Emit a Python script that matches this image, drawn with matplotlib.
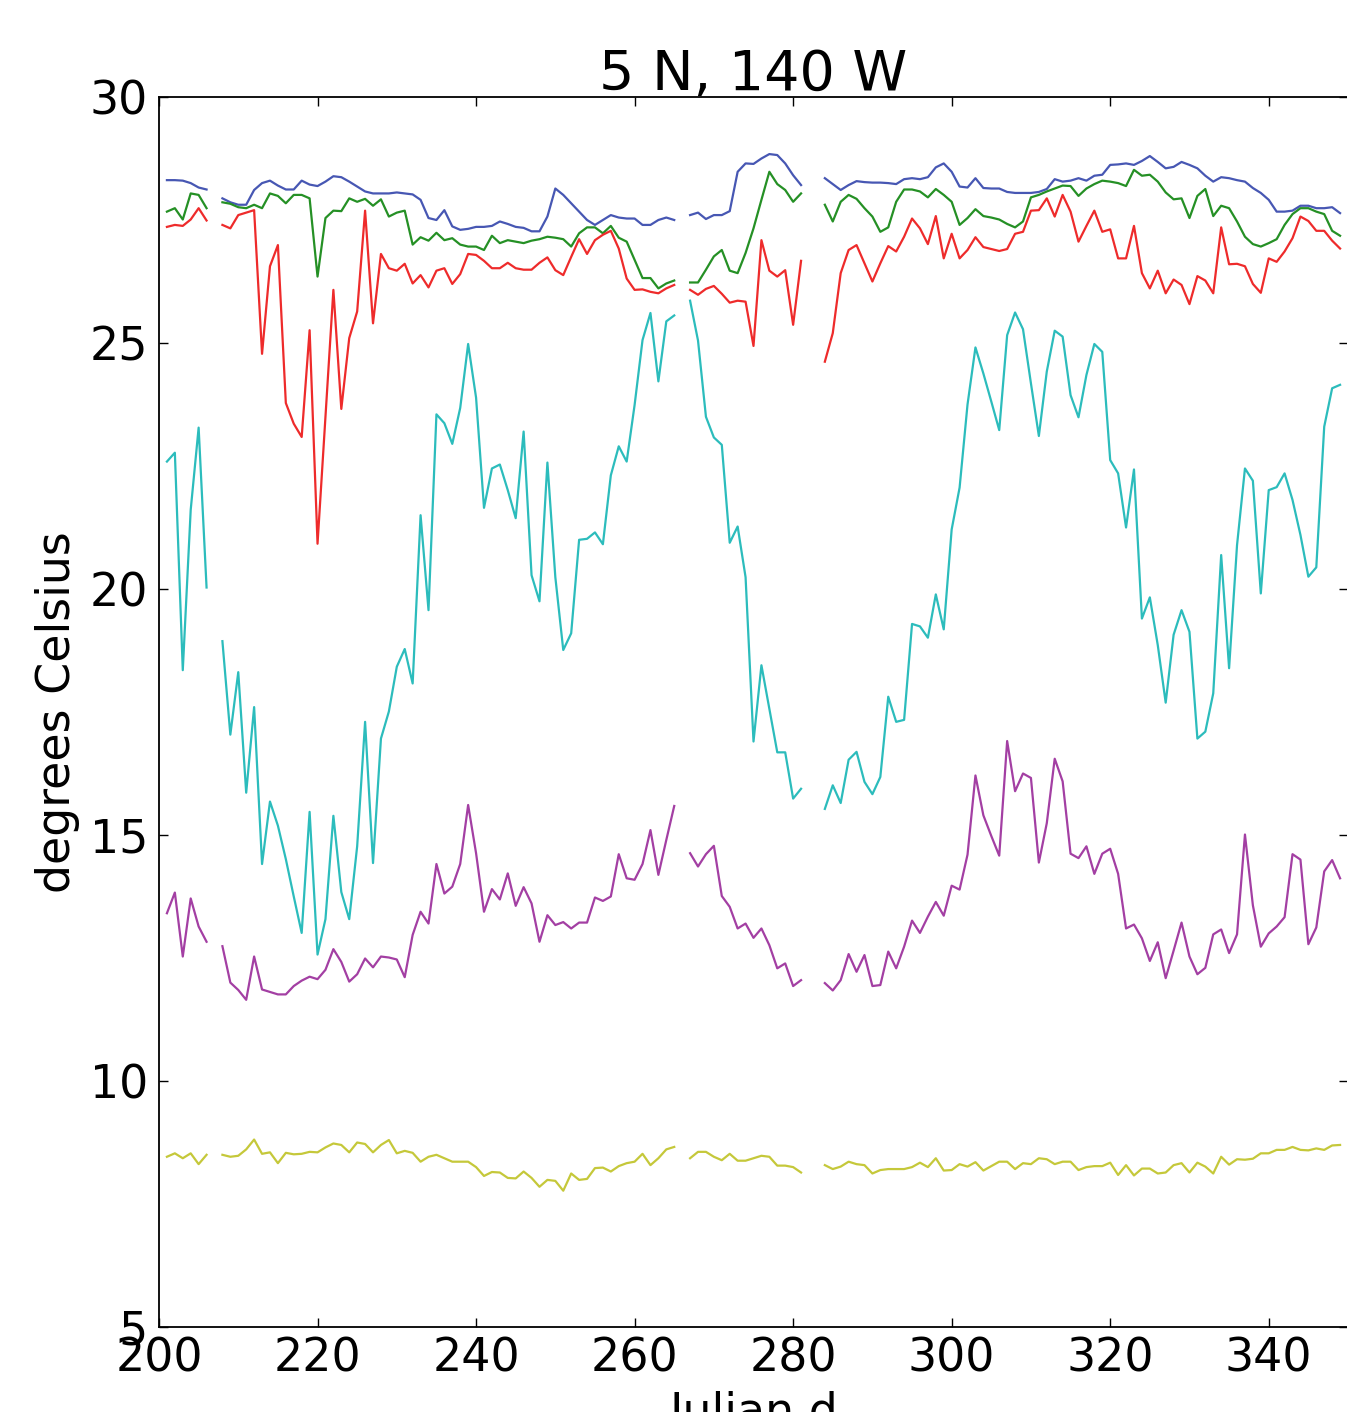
import numpy as np
import matplotlib
matplotlib.use("Agg")
import matplotlib.pyplot as plt

nan = np.nan
days = list(range(201, 350))

blue = [28.31, 28.31, 28.30, 28.25, 28.16, 28.12, nan,
        27.94, 27.86, 27.81, 27.81, 28.11, 28.25, 28.30, 28.20, 28.12, 28.12,
        28.30, 28.22, 28.19, 28.28, 28.39, 28.37, 28.28, 28.18, 28.08, 28.04,
        28.04, 28.04, 28.06, 28.04, 28.02, 27.91, 27.54, 27.50, 27.70, 27.37,
        27.30, 27.32, 27.36, 27.36, 27.38, 27.47, 27.42, 27.36, 27.34, 27.27,
        27.27, 27.57, 28.14,
        28.01, 27.84, 27.67, 27.50, 27.40, 27.50, 27.60, 27.55, 27.53, 27.53, 27.40, 27.40, 27.50, 27.55, 27.50,
        nan,
        27.60, 27.65, 27.52, 27.60, 27.60, 27.68, 28.48, 28.65, 28.64, 28.75, 28.84, 28.82, 28.65, 28.41, 28.21,
        nan, nan,
        28.35, 28.23, 28.11, 28.21, 28.29, 28.27, 28.26, 28.26, 28.25, 28.23, 28.33, 28.35, 28.33, 28.37, 28.57,
        28.65, 28.48, 28.18, 28.16, 28.35, 28.15, 28.14, 28.14, 28.07, 28.05,
        28.05, 28.05, 28.07, 28.13, 28.33, 28.28, 28.30, 28.35, 28.30, 28.40,
        28.42, 28.62, 28.63, 28.65, 28.62, 28.70, 28.80, 28.68, 28.55, 28.58,
        28.68, 28.62, 28.55, 28.40, 28.28, 28.37, 28.35, 28.31, 28.28, 28.15,
        28.05, 27.91, 27.67, 27.67, 27.69, 27.79, 27.79, 27.74, 27.74, 27.76, 27.64]

green = [27.67, 27.74, 27.51, 28.04, 28.01, 27.74, nan,
         27.86, 27.83, 27.76, 27.74, 27.81, 27.74, 28.04, 27.99, 27.84, 28.01,
         28.01, 27.94, 26.35, 27.54, 27.69, 27.68, 27.94, 27.87, 27.93, 27.79,
         27.92, 27.57, 27.65, 27.69, 27.00, 27.15, 27.08, 27.24, 27.09, 27.13,
         27.00, 26.96, 26.96, 26.89, 27.18, 27.03, 27.09, 27.06, 27.03, 27.08,
         27.11, 27.16, 27.14,
         27.11, 26.96, 27.23, 27.35, 27.35, 27.23, 27.38, 27.14, 27.06, 26.69, 26.32, 26.32, 26.11, 26.21, 26.27,
         nan,
         26.23, 26.23, 26.49, 26.76, 26.89, 26.47, 26.42, 26.83, 27.33, 27.91, 28.48, 28.23, 28.11, 27.87, 28.04,
         nan, nan,
         27.81, 27.47, 27.87, 28.01, 27.93, 27.74, 27.57, 27.26, 27.35, 27.87, 28.12, 28.12, 28.08, 27.96, 28.13,
         28.01, 27.87, 27.40, 27.54, 27.72, 27.58, 27.55, 27.51, 27.42, 27.35,
         27.47, 27.96, 28.01, 28.08, 28.14, 28.20, 28.19, 27.99, 28.14, 28.23,
         28.30, 28.28, 28.25, 28.19, 28.52, 28.40, 28.42, 28.28, 28.06, 27.92,
         27.94, 27.54, 27.99, 28.13, 27.58, 27.79, 27.74, 27.47, 27.16, 27.01,
         26.96, 27.03, 27.11, 27.40, 27.62, 27.74, 27.74, 27.67, 27.62, 27.28, 27.18]

red = [27.36, 27.40, 27.38, 27.51, 27.74, 27.49, nan,
       27.40, 27.33, 27.60, 27.65, 27.70, 24.78, 26.56, 26.99, 23.78, 23.36,
       23.09, 25.26, 20.92, 23.50, 26.08, 23.66, 25.10, 25.64, 27.69, 25.40,
       26.81, 26.52, 26.47, 26.61, 26.21, 26.38, 26.13, 26.47, 26.52, 26.20,
       26.40, 26.81, 26.79, 26.67, 26.52, 26.52, 26.63, 26.52, 26.49, 26.49,
       26.63, 26.74, 26.48,
       26.38, 26.75, 27.11, 26.81, 27.09, 27.20, 27.28, 26.92, 26.31, 26.08, 26.09, 26.04, 26.01, 26.11, 26.18,
       nan,
       26.08, 25.98, 26.10, 26.16, 26.00, 25.82, 25.86, 25.84, 24.94, 27.09, 26.47, 26.35, 26.48, 25.37, 26.67,
       nan, nan,
       24.62, 25.20, 26.42, 26.89, 26.99, 26.62, 26.25, 26.62, 26.97, 26.86, 27.16, 27.53, 27.33, 27.01, 27.58,
       26.72, 27.22, 26.72, 26.89, 27.15, 26.95, 26.91, 26.87, 26.91, 27.22,
       27.26, 27.69, 27.70, 27.94, 27.57, 28.01, 27.67, 27.06, 27.38, 27.69,
       27.26, 27.31, 26.72, 26.72, 27.38, 26.42, 26.11, 26.47, 26.01, 26.29,
       26.18, 25.79, 26.36, 26.27, 26.01, 27.35, 26.60, 26.61, 26.56, 26.20,
       26.02, 26.72, 26.65, 26.86, 27.13, 27.57, 27.48, 27.28, 27.28, 27.08, 26.92]

cyan = [22.59, 22.77, 18.35, 21.61, 23.28, 20.03, nan,
        18.94, 17.04, 18.31, 15.86, 17.60, 14.41, 15.68, 15.19, 14.51, 13.75,
        13.01, 15.47, 12.57, 13.29, 15.39, 13.84, 13.29, 14.77, 17.30, 14.43,
        16.96, 17.51, 18.42, 18.78, 18.08, 21.50, 19.57, 23.55, 23.37, 22.95,
        23.68, 24.98, 23.89, 21.65, 22.45, 22.53, 22.01, 21.44, 23.20, 20.28,
        19.75, 22.57, 20.24,
        18.76, 19.10, 21.00, 21.02, 21.15, 20.91, 22.31, 22.90, 22.59, 23.74, 25.06, 25.61, 24.22, 25.44, 25.56,
        nan,
        25.86, 25.05, 23.50, 23.08, 22.93, 20.94, 21.27, 20.24, 16.90, 18.45, 17.56, 16.68, 16.68, 15.74, 15.94,
        nan, nan,
        15.53, 16.01, 15.65, 16.53, 16.69, 16.08, 15.83, 16.18, 17.81, 17.30, 17.34, 19.29, 19.24, 19.01, 19.89,
        19.18, 21.21, 22.06, 23.75, 24.91, 24.38, 23.81, 23.23, 25.16, 25.62,
        25.28, 24.18, 23.11, 24.42, 25.25, 25.13, 23.94, 23.49, 24.35, 24.98,
        24.82, 22.62, 22.35, 21.25, 22.43, 19.40, 19.83, 18.86, 17.69, 19.07,
        19.57, 19.13, 16.96, 17.10, 17.88, 20.69, 18.39, 20.89, 22.45, 22.20,
        19.91, 22.01, 22.07, 22.35, 21.81, 21.10, 20.25, 20.44, 23.30, 24.08, 24.15]

magenta = [13.41, 13.83, 12.53, 13.71, 13.14, 12.83, nan,
           12.74, 12.00, 11.85, 11.65, 12.53, 11.86, 11.81, 11.76, 11.76, 11.93,
           12.04, 12.12, 12.07, 12.26, 12.68, 12.42, 12.02, 12.17, 12.49, 12.31,
           12.53, 12.51, 12.47, 12.11, 12.97, 13.44, 13.20, 14.41, 13.81, 13.95,
           14.41, 15.61, 14.63, 13.44, 13.90, 13.69, 14.22, 13.56, 13.94, 13.61,
           12.83, 13.37, 13.17,
           13.23, 13.10, 13.22, 13.22, 13.73, 13.66, 13.75, 14.61, 14.12, 14.09, 14.41, 15.10, 14.19, 14.90, 15.59,
           nan,
           14.63, 14.36, 14.61, 14.78, 13.76, 13.54, 13.10, 13.20, 12.91, 13.10, 12.76, 12.29, 12.39, 11.93, 12.05,
           nan, nan,
           11.99, 11.84, 12.05, 12.58, 12.22, 12.56, 11.93, 11.95, 12.63, 12.29, 12.73, 13.26, 13.01, 13.34, 13.64,
           13.36, 13.97, 13.89, 14.60, 16.21, 15.40, 14.98, 14.58, 16.91, 15.89,
           16.25, 16.16, 14.44, 15.24, 16.55, 16.09, 14.62, 14.53, 14.77, 14.21,
           14.62, 14.72, 14.21, 13.10, 13.18, 12.90, 12.44, 12.82, 12.09, 12.65,
           13.22, 12.53, 12.17, 12.30, 12.98, 13.08, 12.60, 12.98, 15.01, 13.57,
           12.73, 13.00, 13.14, 13.33, 14.61, 14.50, 12.78, 13.12, 14.26, 14.49, 14.12]

yellow = [8.46, 8.53, 8.43, 8.53, 8.31, 8.50, nan,
          8.50, 8.46, 8.48, 8.61, 8.81, 8.52, 8.55, 8.33, 8.54, 8.51,
          8.52, 8.56, 8.55, 8.65, 8.73, 8.70, 8.55, 8.75, 8.72, 8.55,
          8.70, 8.80, 8.53, 8.58, 8.54, 8.36, 8.46, 8.50, 8.43, 8.36,
          8.36, 8.36, 8.25, 8.07, 8.15, 8.14, 8.03, 8.02, 8.16, 8.03,
          7.85, 7.99, 7.97,
          7.77, 8.12, 7.99, 8.01, 8.23, 8.24, 8.16, 8.27, 8.33, 8.36, 8.52, 8.29, 8.43, 8.61, 8.66,
          nan,
          8.43, 8.56, 8.56, 8.46, 8.39, 8.52, 8.38, 8.38, 8.43, 8.48, 8.46, 8.28, 8.28, 8.25, 8.14,
          nan, nan,
          8.29, 8.21, 8.26, 8.36, 8.31, 8.29, 8.12, 8.19, 8.21, 8.21, 8.21, 8.25, 8.34, 8.25, 8.43,
          8.18, 8.19, 8.31, 8.26, 8.35, 8.18, 8.27, 8.36, 8.36, 8.21,
          8.33, 8.31, 8.43, 8.41, 8.31, 8.36, 8.36, 8.19, 8.25, 8.27,
          8.27, 8.34, 8.09, 8.29, 8.08, 8.22, 8.22, 8.12, 8.14, 8.29,
          8.33, 8.14, 8.34, 8.26, 8.12, 8.46, 8.30, 8.41, 8.40, 8.42,
          8.53, 8.53, 8.60, 8.60, 8.66, 8.60, 8.59, 8.63, 8.60, 8.69, 8.70]

series = [
    (blue, '#4757b3'),
    (green, '#259025'),
    (red, '#ee2b2b'),
    (cyan, '#2cbcbc'),
    (magenta, '#a33fa3'),
    (yellow, '#c5c83a'),
]

xticks = [200, 220, 240, 260, 280, 300, 320, 340]
yticks = [5, 10, 15, 20, 25, 30]

W, H = 1347, 1412
fig = plt.figure(figsize=(W / 100, H / 100), dpi=100)
ax = fig.add_axes([159 / W, (H - 1327) / H, 1189 / W, 1230 / H])

for vals, col in series:
    assert len(vals) == len(days), len(vals)
    ax.plot(days, vals, color=col, lw=1.6)

ax.set_xlim(200, 350)
ax.set_ylim(5, 30)
ax.set_xticks(xticks)
ax.set_yticks(yticks)
ax.tick_params(direction='in', length=6.5, width=1, labelsize=33, pad=8,
               top=True, right=True)
ax.tick_params(axis='x', pad=7)
for s in ax.spines.values():
    s.set_linewidth(1.3)

ax.set_title('5 N, 140 W', fontsize=40, pad=5)
ax.set_ylabel('degrees Celsius', fontsize=33, labelpad=7)
ax.set_xlabel('Julian d', fontsize=33, labelpad=7)

fig.savefig('out.png', dpi=100)
